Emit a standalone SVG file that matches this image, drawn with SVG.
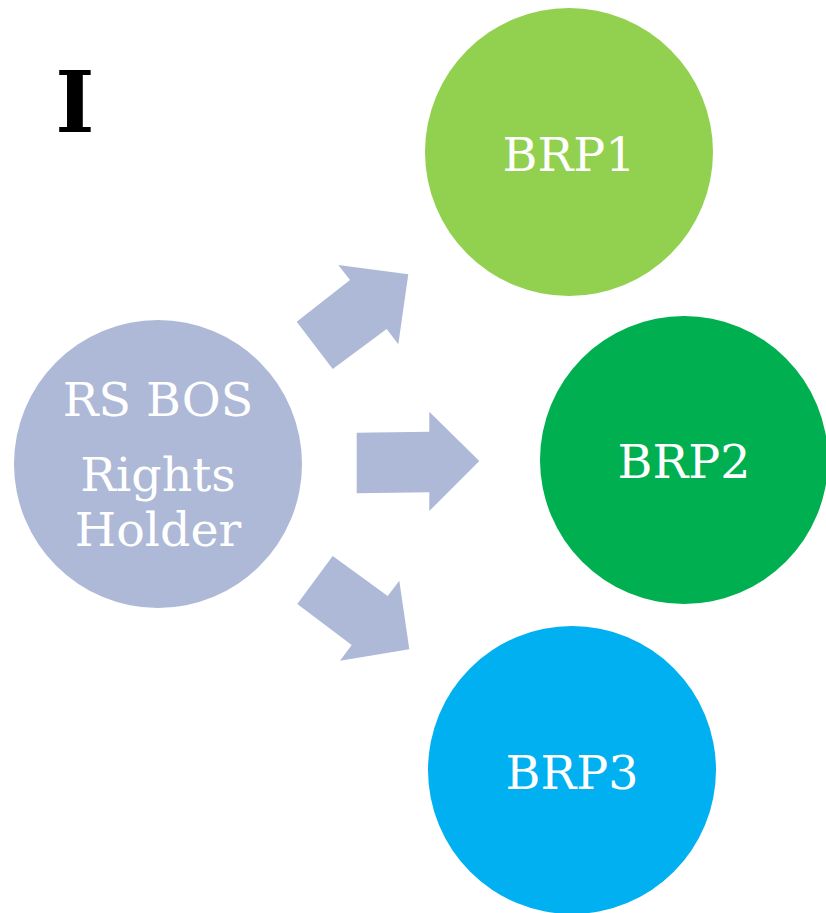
<svg xmlns="http://www.w3.org/2000/svg" width="826" height="913" viewBox="0 0 826 913">
<style>
.lbl{font-family:"DejaVu Serif","Liberation Serif",serif;font-size:47.5px;fill:#ffffff;text-anchor:middle}
.arrow{fill:#ADB9D6}
</style>
<rect width="826" height="913" fill="#ffffff"/>
<text x="75" y="132" font-family="DejaVu Serif, Liberation Serif, serif" font-weight="bold" font-size="84" text-anchor="middle" fill="#000">I</text>
<g id="connectors">
<polygon class="arrow" points="296.7,321.7 350,280 338.3,265 408.3,274.3 398.3,344.3 386.7,329 332.7,369"/>
<polygon class="arrow" points="356.7,432.7 429.3,431.7 429.3,411.7 479.3,461 429.3,511 429.3,492.3 356.7,493.3"/>
<polygon class="arrow" points="332.7,556 387.7,596 399.3,580.7 409.3,649.3 340,660.7 351.7,645 297.3,604"/>
</g>
<g id="rsbos">
<circle cx="158" cy="464" r="144" fill="#ADB9D6"/>
<text class="lbl" x="158" y="416">RS BOS</text>
<text class="lbl" x="158" y="491">Rights</text>
<text class="lbl" x="158" y="546">Holder</text>
</g>
<g id="brp1">
<circle cx="569" cy="152" r="144" fill="#92D050"/>
<text class="lbl" x="569" y="171">BRP1</text>
</g>
<g id="brp2">
<circle cx="684" cy="460" r="144" fill="#00B050"/>
<text class="lbl" x="684" y="478">BRP2</text>
</g>
<g id="brp3">
<circle cx="572" cy="770" r="144" fill="#00B0F0"/>
<text class="lbl" x="572" y="789">BRP3</text>
</g>
</svg>
